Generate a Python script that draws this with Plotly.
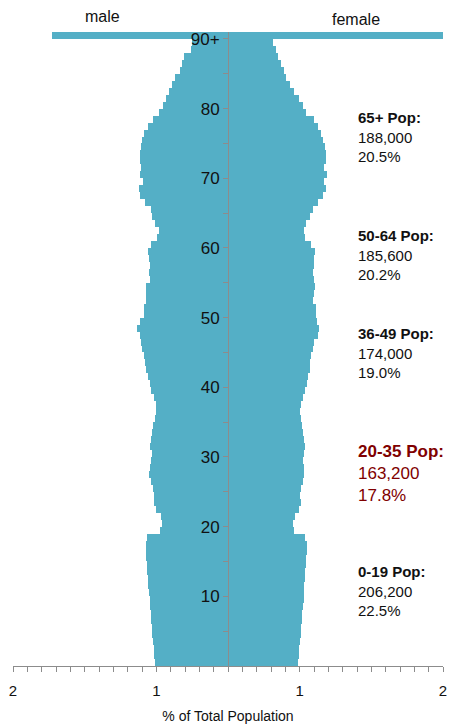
import plotly.graph_objects as go

# Single-year ages, the last bar is 90+
ages = list(range(0, 91))

# % of total population by age
male_pct = [
    0.512, 0.515, 0.519, 0.523, 0.527, 0.531, 0.535, 0.539, 0.543, 0.547,
    0.551, 0.555, 0.558, 0.562, 0.566, 0.569, 0.572, 0.575, 0.568, 0.472,
    0.459, 0.466, 0.505, 0.517, 0.519, 0.524, 0.535, 0.552, 0.542, 0.535,
    0.531, 0.542, 0.540, 0.531, 0.524, 0.507, 0.500, 0.505, 0.519, 0.535,
    0.547, 0.559, 0.575, 0.582, 0.589, 0.600, 0.610, 0.617, 0.635, 0.617,
    0.589, 0.586, 0.575, 0.570, 0.570, 0.547, 0.554, 0.547, 0.552, 0.559,
    0.535, 0.494, 0.484, 0.512, 0.531, 0.540, 0.582, 0.614, 0.624, 0.594,
    0.617, 0.610, 0.612, 0.617, 0.610, 0.600, 0.589, 0.559, 0.524, 0.482,
    0.454, 0.436, 0.412, 0.391, 0.373, 0.338, 0.322, 0.308, 0.261, 0.252,
    1.230,
]
female_pct = [
    0.488, 0.493, 0.498, 0.502, 0.506, 0.511, 0.515, 0.519, 0.523, 0.527,
    0.530, 0.533, 0.536, 0.540, 0.543, 0.546, 0.549, 0.552, 0.540, 0.459,
    0.452, 0.468, 0.498, 0.510, 0.503, 0.510, 0.521, 0.533, 0.528, 0.526,
    0.528, 0.538, 0.533, 0.526, 0.515, 0.510, 0.503, 0.510, 0.526, 0.540,
    0.552, 0.561, 0.573, 0.573, 0.580, 0.591, 0.603, 0.626, 0.633, 0.619,
    0.614, 0.614, 0.591, 0.603, 0.607, 0.603, 0.596, 0.598, 0.598, 0.607,
    0.580, 0.538, 0.533, 0.545, 0.573, 0.596, 0.626, 0.661, 0.684, 0.668,
    0.691, 0.672, 0.684, 0.684, 0.679, 0.666, 0.649, 0.626, 0.603, 0.545,
    0.521, 0.494, 0.463, 0.431, 0.405, 0.394, 0.373, 0.352, 0.336, 0.317,
    1.600,
]

# Age-group summary boxes on the right
group_labels = ['65+ Pop:', '50-64 Pop:', '36-49 Pop:', '20-35 Pop:', '0-19 Pop:']
group_counts = ['188,000', '185,600', '174,000', '163,200', '206,200']
group_shares = ['20.5%', '20.2%', '19.0%', '17.8%', '22.5%']
group_y = [80.3, 63.3, 49.2, 32.5, 15.0]   # where each box starts (age units)
highlight = '20-35 Pop:'

# Axis labels
age_tickvals = list(range(5, 91, 5))
age_ticktext = [str(a) if a % 10 == 0 else '' for a in age_tickvals]
age_ticktext[-1] = '90+'
pct_tickvals = [-1.5, -0.5, 0.5, 1.5]
pct_ticktext = ['2', '1', '1', '2']

bar_color = '#54AFC6'
axis_gray = '#8c8c8c'
font_family = 'Arial, Liberation Sans, sans-serif'

traces = []

# Male bars go to the left
traces.append(go.Bar(
    y=ages,
    x=[-v for v in male_pct],
    orientation='h',
    width=1,
    offset=0,
    name='male',
    marker=dict(color=bar_color, line=dict(width=0)),
    hovertemplate='Age %{y}: %{customdata:.2f}%<extra>male</extra>',
    customdata=male_pct,
))

# Female bars go to the right
traces.append(go.Bar(
    y=ages,
    x=female_pct,
    orientation='h',
    width=1,
    offset=0,
    name='female',
    marker=dict(color=bar_color, line=dict(width=0)),
    hovertemplate='Age %{y}: %{x:.2f}%<extra>female</extra>',
))

annotations = [
    dict(text='male', x=-0.875, y=1.024, xref='x', yref='paper',
         xanchor='center', yanchor='middle',
         showarrow=False, font=dict(size=16, color='#111')),
    dict(text='female', x=0.895, y=1.020, xref='x', yref='paper',
         xanchor='center', yanchor='middle',
         showarrow=False, font=dict(size=16, color='#111')),
]

for label, count, share, gy in zip(group_labels, group_counts, group_shares, group_y):
    if label == highlight:
        fnt = dict(size=17, color='#800000')
    else:
        fnt = dict(size=15, color='#111')
    annotations.append(dict(
        text=f'<b>{label}</b><br>{count}<br>{share}',
        x=0.89, y=gy, xref='x', yref='y',
        xanchor='left', yanchor='top', align='left',
        showarrow=False, font=fnt,
    ))

layout = go.Layout(
    width=449,
    height=724,
    margin=dict(l=13, r=6, t=32, b=58),
    paper_bgcolor='white',
    plot_bgcolor='white',
    font=dict(family=font_family, color='#111'),
    barmode='overlay',
    bargap=0,
    showlegend=False,
    xaxis=dict(
        range=[-1.5, 1.5],
        automargin=False,
        tickvals=pct_tickvals,
        ticktext=pct_ticktext,
        ticks='outside',
        ticklen=5,
        tickcolor=axis_gray,
        ticklabelstandoff=6,
        ticklabeloverflow='allow',
        minor=dict(dtick=0.1, tick0=0, ticks='outside', ticklen=5, tickcolor=axis_gray),
        showline=True,
        linecolor=axis_gray,
        linewidth=1,
        showgrid=False,
        zeroline=False,
        tickfont=dict(size=15, color='#111'),
        title=dict(text='% of Total Population', font=dict(size=14, color='#111'), standoff=15),
    ),
    yaxis=dict(
        range=[0, 91],
        anchor='free',
        position=0.5,
        automargin=False,
        tickvals=age_tickvals,
        ticktext=age_ticktext,
        ticks='outside',
        ticklen=5,
        tickcolor=axis_gray,
        showline=True,
        linecolor=axis_gray,
        linewidth=1,
        showgrid=False,
        zeroline=False,
        tickfont=dict(size=17, color='#111'),
    ),
    annotations=annotations,
)

fig = go.Figure(data=traces, layout=layout)
# drop the default page margin so the figure fills the window exactly
fig.write_html(
    'out.html',
    config={'displayModeBar': False},
    post_script="document.body.style.margin='0';document.body.style.overflow='hidden';",
)
